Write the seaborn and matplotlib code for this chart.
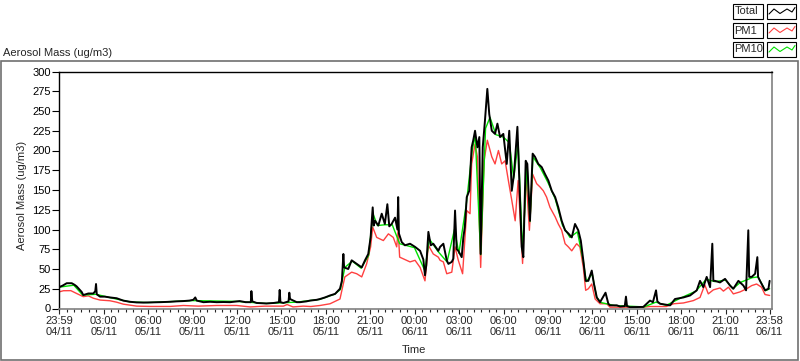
import matplotlib
matplotlib.use("Agg")
import matplotlib.pyplot as plt
import numpy as np
import pandas as pd
import seaborn as sns
from matplotlib.lines import Line2D
from matplotlib.patches import Rectangle

# hours since 23:59 04/11
total_hours = [0.0, 0.25, 0.52, 0.86, 1.05, 1.19, 1.53, 1.64, 1.98, 2.32, 2.45, 2.5, 2.55, 2.77,
               3.1, 3.44, 3.89, 4.34, 4.79, 5.24, 5.7, 6.14, 6.8, 7.5, 7.9, 8.4, 8.8, 9.07, 9.2,
               9.3, 9.75, 10.2, 10.65, 11.1, 11.55, 12.2, 12.6, 12.95, 12.99, 13.05, 13.35, 14.0,
               14.5, 14.85, 14.9, 14.95, 15.15, 15.5, 15.55, 15.6, 16.05, 16.27, 16.7, 16.95,
               17.4, 17.62, 17.96, 18.3, 18.64, 18.97, 19.1, 19.2, 19.25, 19.53, 19.76, 20.1,
               20.44, 20.66, 20.88, 21.04, 21.18, 21.25, 21.34, 21.56, 21.79, 22.0, 22.17, 22.3,
               22.46, 22.69, 22.85, 22.9, 22.95, 23.14, 23.36, 23.7, 24.04, 24.38, 24.6, 24.71,
               24.8, 24.94, 25.1, 25.27, 25.61, 25.73, 25.95, 26.18, 26.29, 26.52, 26.62, 26.74,
               26.85, 26.96, 27.19, 27.3, 27.4, 27.53, 27.7, 27.86, 27.97, 28.09, 28.25, 28.38,
               28.47, 28.61, 28.76, 28.92, 29.05, 29.22, 29.44, 29.6, 29.78, 30.0, 30.23, 30.4,
               30.57, 30.72, 30.95, 31.08, 31.24, 31.35, 31.51, 31.62, 31.8, 31.98, 32.14, 32.36,
               32.59, 32.82, 33.04, 33.27, 33.5, 33.71, 33.94, 34.17, 34.39, 34.62, 34.84, 35.06,
               35.23, 35.4, 35.56, 35.74, 35.97, 36.12, 36.31, 36.53, 36.9, 37.09, 37.2, 37.66,
               37.88, 38.2, 38.28, 38.35, 38.55, 39.45, 39.9, 40.1, 40.31, 40.4, 40.58, 41.26,
               41.59, 42.16, 42.61, 43.06, 43.28, 43.5, 43.73, 43.96, 44.11, 44.18, 44.29, 44.63,
               44.97, 45.31, 45.53, 45.87, 46.21, 46.39, 46.54, 46.6, 46.77, 47.0, 47.15, 47.2,
               47.33, 47.67, 47.9, 47.98]
total_vals = [27, 29, 32, 32, 30, 28, 21, 17, 19, 19, 22, 31, 18, 15,
              15, 14, 13, 10, 8.5, 7.7, 7.5, 7.7, 8, 8.5, 9, 9.4, 10, 11, 14,
              10, 8, 8.5, 8, 8.2, 8, 9.4, 8, 8, 22, 9, 7, 6.4,
              7, 8, 23.5, 8, 7, 9, 20, 12, 8, 8, 9, 10,
              11, 12, 14, 16.5, 18.5, 25, 35, 69, 52, 50, 61, 56.5,
              52, 61, 69, 90, 128, 105, 111, 105, 120, 107, 132, 104,
              107, 115, 100, 141, 95, 84, 80, 82, 78, 73, 62, 42,
              55, 97, 80, 82, 73, 78, 82, 61, 56.5, 59, 63, 124,
              75, 73, 65, 90, 103, 141, 149, 204, 213, 225, 204, 217,
              69, 204, 238, 278, 246, 225, 221, 234, 217, 221, 183, 225,
              149, 170, 230, 162, 78, 65, 187, 183, 111, 196, 192, 183,
              179, 170, 162, 149, 141, 128, 111, 99, 95, 90, 107, 99,
              86, 61, 35, 35, 48, 31, 14, 8, 20, 6, 4, 4,
              2.5, 3, 15, 3, 1.7, 2, 10, 8, 23, 9, 6, 4,
              12, 14, 16.5, 23, 35, 27, 40, 27, 82, 35, 35, 33,
              37.5, 29, 25, 35, 29, 23, 99, 40, 40, 44, 65, 40,
              35, 23, 25, 35]

pm1_hours = [0.0, 0.3, 0.8, 1.19, 1.64, 1.98, 2.32, 2.77, 3.44, 3.89, 4.34, 5.24, 6.14, 7.5, 8.4,
             9.4, 10.65, 12.0, 12.9, 13.9, 15.15, 15.4, 15.8, 16.5, 17.0, 17.62, 18.3, 18.97,
             19.3, 19.76, 20.1, 20.44, 20.77, 21.04, 21.18, 21.45, 21.9, 22.24, 22.57, 22.8,
             22.9, 23.0, 23.7, 24.04, 24.38, 24.71, 24.94, 25.27, 25.61, 25.73, 25.95, 26.18,
             26.52, 26.74, 26.96, 27.25, 27.53, 27.75, 27.86, 28.09, 28.25, 28.47, 28.7, 28.92,
             29.05, 29.22, 29.44, 29.67, 29.89, 30.12, 30.34, 30.57, 30.8, 31.0, 31.3, 31.53,
             31.76, 31.98, 32.25, 32.47, 32.7, 32.92, 33.15, 33.5, 33.71, 33.94, 34.17, 34.39,
             34.62, 34.95, 35.17, 35.4, 35.56, 35.74, 35.97, 36.2, 36.53, 36.98, 37.2, 38.0,
             39.45, 39.9, 41.0, 41.5, 42.16, 42.83, 43.28, 43.6, 43.84, 44.18, 44.63, 44.86,
             45.2, 45.53, 45.98, 46.43, 46.77, 47.1, 47.43, 47.67, 47.98]
pm1_vals = [21, 22.5, 22.6, 19, 15, 16, 13, 10.7, 9.8, 8, 5.5, 3, 2.6, 2.6, 3.8,
            3, 3.8, 3.8, 2, 3, 3, 5, 2, 3, 2.5, 3.8, 6, 12,
            40, 46, 44, 40, 56.5, 78, 103, 90, 86, 94.5, 90, 78,
            99, 65, 59, 61, 52, 35, 80, 69, 65, 61, 59, 44,
            46, 78, 61, 44, 124, 120, 183, 208, 192, 52, 187, 213,
            204, 192, 183, 200, 183, 187, 162, 137, 111, 162, 57, 170,
            99, 170, 158, 154, 149, 141, 128, 116, 107, 99, 82, 78,
            73, 82, 78, 52, 23, 25, 31, 12, 6, 6, 1.7, 1.7,
            1.7, 2.5, 2.5, 6, 7, 10, 14, 30, 18.5, 23.6, 26, 22,
            27, 18.5, 21, 25, 29, 31, 27, 17.7, 16.5]

pm10_hours = [0, 1, 1.6, 2.5, 3.5, 4.8, 6, 9, 12, 14, 16, 17.6, 18.6, 19, 19.3, 19.8, 20.4,
              20.9, 21.2, 21.5, 22, 22.5, 23, 24, 24.7, 25, 25.6, 26.2, 26.7, 27, 27.5, 27.9,
              28.1, 28.47, 28.8, 29.1, 29.5, 30, 30.4, 30.7, 31, 31.3, 31.6, 31.8, 32, 32.5, 33,
              33.5, 34, 34.5, 35, 35.4, 35.6, 36, 36.3, 36.6, 37.5, 39.5, 40.3, 41, 42, 43, 43.7,
              44.3, 45, 45.5, 46, 46.8, 47.2, 47.7, 47.98]
pm10_vals = [27, 29.5, 17, 18, 13.5, 8.3, 7.5, 10, 9, 6.3, 8, 11.5, 18, 24, 52, 60, 51,
             67, 120, 105, 106, 106, 82, 77, 48, 88, 72, 59, 100, 70, 132, 200,
             220, 68, 228, 242, 220, 217, 210, 165, 210, 72, 183, 110, 192, 178, 160,
             139, 105, 90, 97, 60, 34, 44, 14, 7.5, 3.8, 2, 8, 4, 13.5, 22, 37,
             34, 36, 25, 33, 39, 40, 22.5, 25]

tick_hours = [0, 3.0167, 6.0167, 9.0167, 12.0167, 15.0167, 18.0167, 21.0167, 24.0167,
              27.0167, 30.0167, 33.0167, 36.0167, 39.0167, 42.0167, 45.0167, 47.9833]
tick_labels = ["23:59\n04/11", "03:00\n05/11", "06:00\n05/11", "09:00\n05/11", "12:00\n05/11",
               "15:00\n05/11", "18:00\n05/11", "21:00\n05/11", "00:00\n06/11", "03:00\n06/11",
               "06:00\n06/11", "09:00\n06/11", "12:00\n06/11", "15:00\n06/11", "18:00\n06/11",
               "21:00\n06/11", "23:58\n06/11"]
y_ticks = [0, 25, 50, 75, 100, 125, 150, 175, 200, 225, 250, 275, 300]

colors = {"Total": "#000000", "PM1": "#ff4040", "PM10": "#00e000"}

series = {
    "PM1": pd.DataFrame({"hours": pm1_hours, "value": pm1_vals}),
    "PM10": pd.DataFrame({"hours": pm10_hours, "value": pm10_vals}),
    "Total": pd.DataFrame({"hours": total_hours, "value": total_vals}),
}
line_widths = {"PM1": 1.0, "PM10": 1.0, "Total": 1.4}

sns.set_style("white")
plt.rcParams["font.family"] = ["Liberation Sans", "DejaVu Sans"]
plt.rcParams["font.size"] = 8

W, H = 800, 361
fig = plt.figure(figsize=(8, 3.61), dpi=100)
ax = fig.add_axes([59 / W, (H - 308.5) / H, (772 - 59) / W, (308.5 - 71.5) / H])

for name, data in series.items():
    sns.lineplot(data=data, x="hours", y="value", color=colors[name], estimator=None,
                 sort=False, lw=line_widths[name], ax=ax)

ax.set_xlim(0, 48.14)
ax.set_ylim(0, 300)
ax.set_yticks(y_ticks)
ax.set_xticks(tick_hours)
ax.set_xticklabels(tick_labels, linespacing=1.15)
ax.set_xticks(np.arange(0.5167, 48, 0.5), minor=True)
ax.set_xlabel("")
ax.set_ylabel("")
ax.tick_params(axis="y", direction="out", length=5, width=0.8, pad=1, colors="black", left=True)
ax.tick_params(axis="x", which="major", direction="out", length=3.5, width=0.8, pad=2, bottom=True)
ax.tick_params(axis="x", which="minor", direction="out", length=2.5, width=0.8, bottom=True)
for side in ["left", "top"]:
    ax.spines[side].set_color("black")
    ax.spines[side].set_linewidth(1)
for side in ["right", "bottom"]:
    ax.spines[side].set_color("#808080")
    ax.spines[side].set_linewidth(1.2)

fig.text(22 / W, (H - 195) / H, "Aerosol Mass (ug/m3)", rotation=90, ha="center", va="center")
fig.text(3 / W, (H - 53) / H, "Aerosol Mass (ug/m3)", ha="left", va="center")
fig.text(414 / W, (H - 350) / H, "Time", ha="center", va="center")

# outer frame
fig.add_artist(Rectangle((0.5 / W, (H - 360) / H), 797.5 / W, 299 / H, transform=fig.transFigure,
                         fill=False, edgecolor="#707070", lw=1.2))

# LabVIEW-style legend
legend_rows = [("Total", 4), ("PM1", 23), ("PM10", 42)]
for name, top in legend_rows:
    fig.add_artist(Rectangle((733 / W, (H - top - 15) / H), 30 / W, 15 / H, transform=fig.transFigure,
                             facecolor="white", edgecolor="black", lw=0.8))
    fig.text(734.5 / W, (H - top - 7.5) / H, name, ha="left", va="center")
    fig.add_artist(Rectangle((767 / W, (H - top - 15) / H), 29 / W, 15 / H, transform=fig.transFigure,
                             facecolor="white", edgecolor="black", lw=0.8))
    zx = np.array([769, 774, 780, 787, 792, 795]) / W
    zy = (H - top - np.array([10, 5, 9.5, 5, 8, 3.5])) / H
    fig.add_artist(Line2D(zx, zy, transform=fig.transFigure, color=colors[name], lw=0.8))

fig.savefig("out.png", dpi=100)
